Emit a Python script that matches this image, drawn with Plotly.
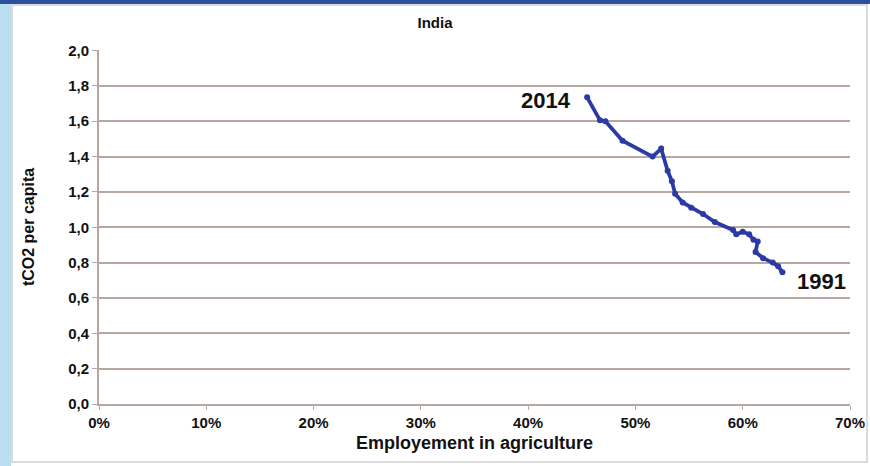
import plotly.graph_objects as go

# India: share of employment in agriculture vs. CO2 emissions per capita, 1991-2014
years = list(range(1991, 2015))
agri_share = [0.637, 0.633, 0.628, 0.619, 0.612, 0.614, 0.610, 0.606, 0.600, 0.594,
              0.591, 0.574, 0.563, 0.552, 0.544, 0.537, 0.534, 0.530, 0.524, 0.516,
              0.488, 0.472, 0.467, 0.455]
co2_per_capita = [0.745, 0.78, 0.80, 0.825, 0.86, 0.92, 0.93, 0.96, 0.975, 0.96,
                  0.985, 1.03, 1.075, 1.11, 1.14, 1.19, 1.26, 1.32, 1.445, 1.40,
                  1.49, 1.60, 1.605, 1.735]

y_ticks = [0, 0.2, 0.4, 0.6, 0.8, 1.0, 1.2, 1.4, 1.6, 1.8, 2.0]
x_ticks = [0, 0.1, 0.2, 0.3, 0.4, 0.5, 0.6, 0.7]

line_color = "#2c3aa6"
grid_color = "#b7a7a1"
font_family = "Liberation Sans, Arial, sans-serif"

fig = go.Figure()
fig.add_trace(go.Scatter(
    x=agri_share, y=co2_per_capita, mode="lines+markers",
    line=dict(color=line_color, width=3.8),
    marker=dict(color=line_color, size=6),
    hoverinfo="skip", showlegend=False,
))

# year labels at both ends of the series
fig.add_annotation(x=agri_share[-1], y=co2_per_capita[-1], text="<b>%d</b>" % years[-1],
                   showarrow=False, xanchor="right", yanchor="middle", xshift=-14, yshift=-3,
                   font=dict(size=22, color="#111111", family=font_family))
fig.add_annotation(x=agri_share[0], y=co2_per_capita[0], text="<b>%d</b>" % years[0],
                   showarrow=False, xanchor="left", yanchor="middle", xshift=13, yshift=-9,
                   font=dict(size=22, color="#111111", family=font_family))

# slide frame around the chart
W, L = 751.0, 99.0
H = 354.0
def px(x):
    return (x - L) / W
def py(y):
    return (404.0 - y) / H

shapes = [
    dict(type="rect", xref="paper", yref="paper", x0=px(0), x1=px(11), y0=py(466), y1=py(0),
         fillcolor="rgba(170,212,236,0.8)", line=dict(width=0), layer="below"),
    dict(type="rect", xref="paper", yref="paper", x0=px(0), x1=px(870), y0=py(4), y1=py(0),
         fillcolor="#2d4f9e", line=dict(width=0), layer="below"),
    dict(type="rect", xref="paper", yref="paper", x0=px(12), x1=px(867), y0=py(462), y1=py(5),
         fillcolor="rgba(0,0,0,0)", line=dict(color="#cfcfcf", width=1.5), layer="below"),
]

tick_font = dict(size=15, family=font_family, weight="bold", color="#111111")

fig.update_layout(
    width=870, height=466,
    margin=dict(l=99, r=20, t=50, b=62, autoexpand=False),
    paper_bgcolor="white", plot_bgcolor="white",
    separators=",.",
    font=dict(family=font_family, color="#111111"),
    title=dict(text="<b>India</b>", x=0.5, xanchor="center", y=0.952, yanchor="middle",
               font=dict(size=15, family=font_family)),
    shapes=shapes,
    xaxis=dict(
        range=[0, 0.7], tickvals=x_ticks, tickformat=".0%",
        showgrid=False, zeroline=False, automargin=False,
        showline=True, linecolor=grid_color, linewidth=2,
        ticks="outside", ticklen=4, tickcolor=grid_color,
        tickfont=tick_font,
        title=dict(text="<b>Employement in agriculture</b>", standoff=6,
                   font=dict(size=18, family=font_family)),
    ),
    yaxis=dict(
        range=[0, 2.003], tickvals=y_ticks, tickformat=".1f",
        showgrid=True, gridcolor=grid_color, gridwidth=1.6,
        zeroline=False, automargin=False,
        showline=True, linecolor=grid_color, linewidth=2,
        ticks="outside", ticklen=5, tickcolor=grid_color,
        tickfont=tick_font,
        title=dict(text="<b>tCO2 per capita</b>", standoff=30,
                   font=dict(size=16, family=font_family)),
    ),
)

fig.write_html("out.html")
